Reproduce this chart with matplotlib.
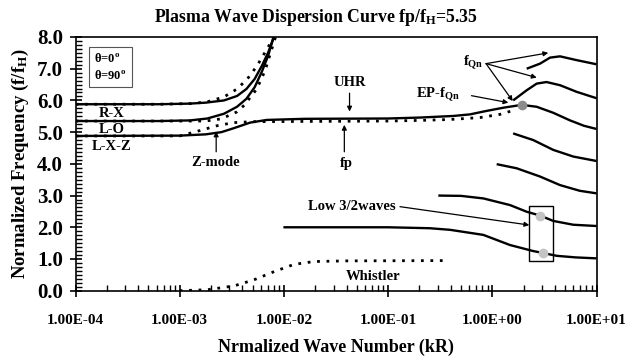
import numpy as np
import matplotlib
matplotlib.use("Agg")
import matplotlib.pyplot as plt
from matplotlib.patches import Rectangle
from matplotlib.ticker import FixedLocator, MultipleLocator, LogLocator, NullFormatter

plt.rcParams['font.family'] = ['Liberation Serif', 'DejaVu Serif']
plt.rcParams['font.weight'] = 'bold'
plt.rcParams['mathtext.fontset'] = 'custom'
plt.rcParams['mathtext.rm'] = 'Liberation Serif:bold'
plt.rcParams['mathtext.it'] = 'Liberation Serif:bold'
plt.rcParams['mathtext.bf'] = 'Liberation Serif:bold'

# ---- data: log10(kR) and f/fH ----
rx_logk = [-4.0, -3.2, -2.9, -2.75, -2.575, -2.45, -2.36, -2.28, -2.21, -2.15, -2.095]
rx_f    = [5.88, 5.88, 5.90, 5.93, 6.00, 6.14, 6.36, 6.68, 7.10, 7.52, 8.00]

lo_logk = [-4.0, -3.2, -2.9, -2.735, -2.575, -2.45, -2.36, -2.28, -2.21, -2.15, -2.10]
lo_f    = [5.35, 5.35, 5.37, 5.43, 5.58, 5.80, 6.05, 6.42, 6.92, 7.42, 8.00]

uhr_logk = [-4.0, -3.0, -2.75, -2.6, -2.485, -2.325, -2.165, -1.8, -1.0, -0.694,
            -0.374, -0.214, -0.054, 0.106, 0.282]
uhr_f    = [4.88, 4.89, 4.93, 5.00, 5.12, 5.30, 5.385, 5.42, 5.43, 5.46,
            5.51, 5.56, 5.67, 5.77, 5.86]

x90_logk = [-4.0, -3.2, -2.9, -2.74, -2.575, -2.45, -2.35, -2.26, -2.175, -2.095]
x90_f    = [5.88, 5.88, 5.90, 5.95, 6.11, 6.36, 6.68, 7.08, 7.55, 8.00]

o90_logk = [-4.0, -2.75, -2.6, -2.45, -2.38, -2.27, -2.22, -2.175, -2.13, -2.08]
o90_f    = [5.35, 5.35, 5.42, 5.64, 5.85, 6.32, 6.64, 7.00, 7.48, 8.00]

z90_logk = [-4.0, -3.0, -2.805, -2.645, -2.485, -2.3, -1.0, -0.694, -0.4, -0.118, 0.074, 0.186]
z90_f    = [4.88, 4.88, 5.05, 5.20, 5.30, 5.33, 5.35, 5.37, 5.40, 5.46, 5.56, 5.67]

whis_logk = [-3.0, -2.735, -2.48, -2.29, -2.095, -1.903, -1.71, -1.4, -0.44]
whis_f    = [0.00, 0.03, 0.15, 0.34, 0.60, 0.83, 0.92, 0.94, 0.95]

b1_logk = [0.282, 0.426, 0.585, 0.746, 0.88, 1.0]
b1_f    = [5.86, 5.80, 5.61, 5.37, 5.20, 5.10]
b2_logk = [0.20, 0.33, 0.426, 0.52, 0.65, 0.81, 1.0]
b2_f    = [6.00, 6.32, 6.53, 6.58, 6.48, 6.27, 6.07]
b3_logk = [0.33, 0.458, 0.554, 0.65, 0.81, 1.0]
b3_f    = [7.00, 7.16, 7.35, 7.39, 7.27, 7.14]
b4_logk = [0.20, 0.393, 0.585, 0.777, 1.0]
b4_f    = [4.96, 4.75, 4.44, 4.23, 4.09]
b5_logk = [0.042, 0.234, 0.458, 0.65, 0.84, 1.0]
b5_f    = [3.99, 3.86, 3.60, 3.33, 3.15, 3.07]
b6_logk = [-0.518, -0.3, -0.086, 0.17, 0.33, 0.458, 0.585, 0.777, 1.0]
b6_f    = [3.00, 2.99, 2.91, 2.70, 2.49, 2.37, 2.20, 2.08, 2.04]
b7_logk = [-2.005, -1.0, -0.6, -0.406, -0.086, 0.17, 0.393, 0.484, 0.618, 0.8, 1.0]
b7_f    = [2.00, 2.00, 1.97, 1.92, 1.76, 1.44, 1.25, 1.19, 1.10, 1.05, 1.02]

ep_point = (0.282, 5.86)
low_points_logk = [0.458, 0.484]
low_points_f = [2.37, 1.19]

xtick_labels = ['1.00E-04', '1.00E-03', '1.00E-02', '1.00E-01', '1.00E+00', '1.00E+01']
ytick_labels = ['0.0', '1.0', '2.0', '3.0', '4.0', '5.0', '6.0', '7.0', '8.0']


def K(v):
    return 10 ** np.asarray(v, dtype=float)


fig = plt.figure(figsize=(6.33, 3.61), dpi=100)
ax = fig.add_axes([75.5 / 633, 1 - 290.7 / 361, 521 / 633, 253.7 / 361])
ax.set_xscale('log')
ax.set_xlim(1e-4, 1e1)
ax.set_ylim(0, 8)

solid = dict(color='black', lw=1.7, solid_capstyle='butt', solid_joinstyle='round')
dotted = dict(color='black', lw=2.0, linestyle=(0, (1.0, 2.4)))

for lk, f in [(z90_logk, z90_f), (x90_logk, x90_f), (o90_logk, o90_f), (whis_logk, whis_f)]:
    ax.plot(K(lk), f, **dotted)
for lk, f in [(rx_logk, rx_f), (lo_logk, lo_f), (uhr_logk, uhr_f), (b1_logk, b1_f),
              (b2_logk, b2_f), (b3_logk, b3_f), (b4_logk, b4_f), (b5_logk, b5_f),
              (b6_logk, b6_f), (b7_logk, b7_f)]:
    ax.plot(K(lk), f, **solid)

ax.add_patch(Rectangle((K(0.355), 0.94), K(0.585) - K(0.355), 2.68 - 0.94,
                       fill=False, ec='black', lw=1.0, zorder=4))
ax.plot(K(low_points_logk), low_points_f, 'o', ms=7, color='#c4c4c4', mec='none', zorder=5)
ax.plot(K([ep_point[0]]), [ep_point[1]], 'o', ms=7, color='#8c8c8c', mec='none', zorder=5)

# ticks
ax.yaxis.set_major_locator(FixedLocator(range(9)))
ax.set_yticklabels(ytick_labels)
ax.yaxis.set_minor_locator(MultipleLocator(0.125))
ax.xaxis.set_major_locator(FixedLocator([1e-4, 1e-3, 1e-2, 1e-1, 1e0, 1e1]))
ax.set_xticklabels(xtick_labels)
ax.xaxis.set_minor_locator(LogLocator(base=10, subs=np.arange(2, 10), numticks=20))
ax.xaxis.set_minor_formatter(NullFormatter())
ax.tick_params(axis='both', which='major', direction='inout', length=8, width=1.2)
ax.tick_params(axis='both', which='minor', direction='in', length=4, width=1.0)
ax.tick_params(axis='y', which='major', labelsize=15, pad=5)
ax.tick_params(axis='x', which='major', labelsize=11, pad=13)
for s in ax.spines.values():
    s.set_linewidth(1.2)

fig.text(316 / 633, 1 - 17 / 361, 'Plasma Wave Dispersion Curve fp/f$_{\\mathrm{H}}$=5.35',
         ha='center', va='center', fontsize=12.8, fontweight='bold')
ax.set_xlabel('Nrmalized Wave Number (kR)', fontsize=13, fontweight='bold', labelpad=8)
ax.set_ylabel('Normalized Frequency (f/f$_{\\mathrm{H}}$)', fontsize=13.5, fontweight='bold', labelpad=4)

# legend box (text only)
ax.text(K(-3.82), 7.05, 'θ=0$^{\\mathrm{o}}$\nθ=90$^{\\mathrm{o}}$', fontsize=9, fontweight='bold',
        ha='left', va='center', linespacing=1.45,
        bbox=dict(boxstyle='square,pad=0.4', fc='white', ec='#555555', lw=0.8))

# mode labels
lab = dict(fontsize=10.5, fontweight='bold', ha='center', va='center')
ax.text(K(-3.65), 5.6, 'R-X', **lab)
ax.text(K(-3.65), 5.08, 'L-O', **lab)
ax.text(K(-3.65), 4.56, 'L-X-Z', **lab)
ax.text(K(-2.66), 4.05, 'Z-mode', **lab)
ax.text(K(-1.366), 6.56, 'UHR', **lab)
ax.text(K(-1.40), 4.0, 'fp', **lab)
ax.text(K(-0.18), 7.17, 'f$_{\\mathrm{Qn}}$', **lab)
ax.text(K(-0.52), 6.17, 'EP-f$_{\\mathrm{Qn}}$', **lab)
ax.text(K(-1.35), 2.67, 'Low 3/2waves', **lab)
ax.text(K(-1.14), 0.46, 'Whistler', **lab)

arr = dict(arrowstyle='-|>', color='black', lw=0.9, mutation_scale=7, shrinkA=0, shrinkB=0)
ax.annotate('', xy=(K(-2.65), 5.02), xytext=(K(-2.65), 4.38), arrowprops=arr)
ax.annotate('', xy=(K(-1.37), 5.65), xytext=(K(-1.37), 6.23), arrowprops=arr)
ax.annotate('', xy=(K(-1.42), 5.23), xytext=(K(-1.42), 4.38), arrowprops=arr)
for tx, ty in [(0.537, 7.5), (0.426, 6.72), (0.196, 5.98)]:
    ax.annotate('', xy=(K(tx), ty), xytext=(K(-0.06), 7.16), arrowprops=arr)
ax.annotate('', xy=(K(0.154), 5.93), xytext=(K(-0.2), 6.15), arrowprops=arr)
ax.annotate('', xy=(K(0.355), 2.07), xytext=(K(-0.886), 2.65), arrowprops=arr)

fig.savefig('out.png', dpi=100)
